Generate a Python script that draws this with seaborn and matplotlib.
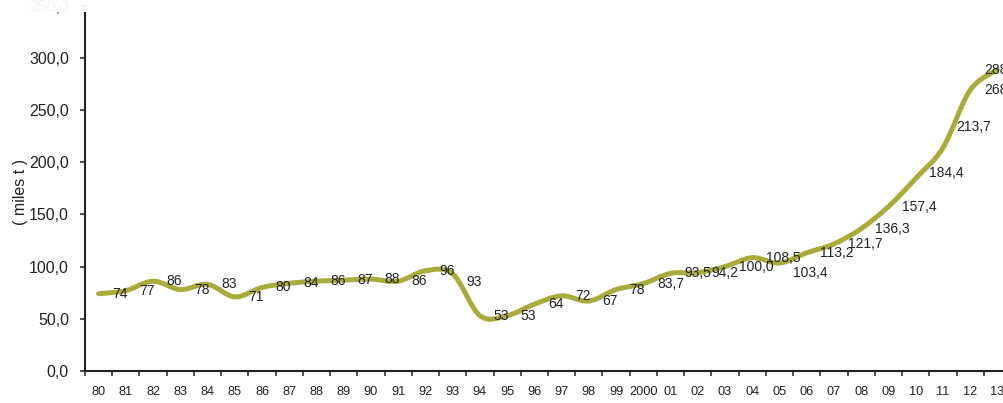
import numpy as np
import matplotlib
matplotlib.use("Agg")
import matplotlib.pyplot as plt
from matplotlib.path import Path
from matplotlib.patches import PathPatch, Rectangle
import seaborn as sns

# data
years = ["80", "81", "82", "83", "84", "85", "86", "87", "88", "89",
         "90", "91", "92", "93", "94", "95", "96", "97", "98", "99",
         "2000", "01", "02", "03", "04", "05", "06", "07", "08", "09",
         "10", "11", "12", "13"]
production = [74, 77, 86, 78, 83, 71, 80, 84, 86, 87,
              88, 86, 96, 93, 53, 53, 64, 72, 67, 78,
              83.7, 93.5, 94.2, 100.0, 108.5, 103.4, 113.2, 121.7, 136.3, 157.4,
              184.4, 213.7, 268.9, 288.5]
y_ticks = [0, 50, 100, 150, 200, 250, 300, 350]

LINE_COLOR = "#A9AB3A"
TEXT_COLOR = "#222222"

sns.set_theme(style="ticks")
plt.rcParams["font.family"] = ["Liberation Sans Narrow", "Liberation Sans", "DejaVu Sans"]


def smooth_path(xs, ys):
    # excel-like smoothed line: cubic bezier segments through the data points
    n = len(xs)
    verts = [(xs[0], ys[0])]
    codes = [Path.MOVETO]
    for i in range(n - 1):
        x0, y0 = xs[max(i - 1, 0)], ys[max(i - 1, 0)]
        x1, y1 = xs[i], ys[i]
        x2, y2 = xs[i + 1], ys[i + 1]
        x3, y3 = xs[min(i + 2, n - 1)], ys[min(i + 2, n - 1)]
        c1 = (x1 + (x2 - x0) / 6, y1 + (y2 - y0) / 6)
        c2 = (x2 - (x3 - x1) / 6, y2 - (y3 - y1) / 6)
        verts += [c1, c2, (x2, y2)]
        codes += [Path.CURVE4] * 3
    return Path(verts, codes)


def fmt(i, v):
    if i < 20:
        return f"{v:.0f}"
    return f"{v:.1f}".replace(".", ",")


fig = plt.figure(figsize=(10.04, 4.03), dpi=100)
ax = fig.add_axes([85 / 1004, 32 / 403, 926 / 1004, 365.5 / 403])

x = np.arange(len(years))
ax.add_patch(PathPatch(smooth_path(x, production), fill=False, ec=LINE_COLOR,
                       lw=3.6, capstyle="round", joinstyle="round",
                       transform=ax.transData, zorder=3))

# labels sit to the right of each point; a few were moved in the original
nudges = {13: (0, -6), 25: (0, -7), 30: (0, 4), 31: (0, 15), 33: (-19.6, 0)}
for i, v in enumerate(production):
    dx, dy = nudges.get(i, (0, 0))
    ax.annotate(fmt(i, v), xy=(i, v), xytext=(9.8 + dx, dy),
                textcoords="offset points", ha="left", va="center",
                fontsize=10, color=TEXT_COLOR, zorder=4)

ax.set_xlim(-0.5, len(years) - 0.5)
ax.set_ylim(0, 350)

ax.set_xticks(x)
ax.set_xticklabels(years)
ax.set_xticks(np.arange(len(years) + 1) - 0.5, minor=True)
ax.tick_params(axis="x", which="major", length=0, pad=11, labelsize=9.2, colors=TEXT_COLOR)
ax.tick_params(axis="x", which="minor", length=3.6, width=1.1, direction="out", color=TEXT_COLOR)

ax.set_yticks(y_ticks)
ax.set_yticklabels([f"{t:.1f}".replace(".", ",") for t in y_ticks])
ax.tick_params(axis="y", length=3.6, width=1.1, pad=8, labelsize=11.5, colors=TEXT_COLOR)

ax.set_ylabel("( miles t )", fontsize=11.5, color=TEXT_COLOR,
              family=["Liberation Sans", "DejaVu Sans"])
ax.yaxis.set_label_coords(-0.0615, 0.49)

sns.despine(ax=ax)
for side in ["left", "bottom"]:
    ax.spines[side].set_linewidth(1.5)
    ax.spines[side].set_color(TEXT_COLOR)
ax.set_facecolor("white")
fig.patch.set_facecolor("white")

# faded strip across the top of the scanned chart
fig.add_artist(Rectangle((0, 391 / 403), 1, 12 / 403, transform=fig.transFigure,
                         fc="white", ec="none", alpha=0.96, zorder=10))

fig.savefig("out.png", dpi=100)
